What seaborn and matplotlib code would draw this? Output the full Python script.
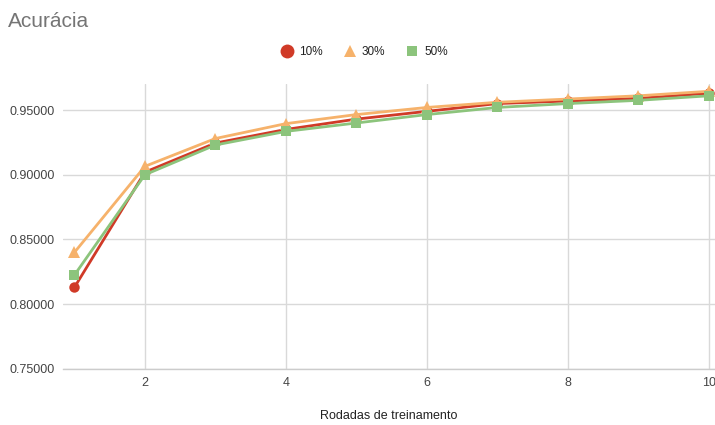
import matplotlib
matplotlib.use("Agg")
import matplotlib.pyplot as plt
from matplotlib.lines import Line2D
import pandas as pd
import seaborn as sns

# Accuracy per training round for each participation fraction
rounds = [1, 2, 3, 4, 5, 6, 7, 8, 9, 10]
acc_10 = [0.8130, 0.9020, 0.9245, 0.9350, 0.9430, 0.9490, 0.9550, 0.9570, 0.9590, 0.9630]
acc_30 = [0.8400, 0.9065, 0.9280, 0.9395, 0.9465, 0.9520, 0.9560, 0.9585, 0.9610, 0.9645]
acc_50 = [0.8225, 0.9000, 0.9230, 0.9335, 0.9400, 0.9465, 0.9520, 0.9550, 0.9575, 0.9610]
series_names = ["10%", "30%", "50%"]
y_ticks = [0.75, 0.80, 0.85, 0.90, 0.95]
x_ticks = [2, 4, 6, 8, 10]

colors = {"10%": "#d03a27", "30%": "#f6b26b", "50%": "#8cc47c"}
markers = {"10%": "o", "30%": "^", "50%": "s"}
sizes = {"10%": 7.5, "30%": 8, "50%": 6.8}
legend_sizes = {"10%": 10, "30%": 8, "50%": 7.5}

df = pd.DataFrame({
    "Rodada": rounds * 3,
    "Acurácia": acc_10 + acc_30 + acc_50,
    "Série": [s for s in series_names for _ in rounds],
})

sns.set_theme(style="white")
plt.rcParams["font.family"] = ["Liberation Sans", "DejaVu Sans"]

fig = plt.figure(figsize=(7.15, 4.25), dpi=100)
ax = fig.add_axes([0.088, 0.132, 0.912, 0.670])

for name in series_names:
    sub = df[df["Série"] == name]
    sns.lineplot(data=sub, x="Rodada", y="Acurácia", ax=ax, color=colors[name],
                 marker=markers[name], markersize=sizes[name], markeredgewidth=0,
                 linewidth=2, legend=False, zorder=3)

ax.set_xlim(0.837, 10.085)
ax.set_ylim(0.75, 0.970)
ax.set_xticks(x_ticks)
ax.set_yticks(y_ticks)
ax.set_yticklabels([f"{v:.5f}" for v in y_ticks])
ax.grid(True, color="#d9d9d9", linewidth=1, zorder=0)
for side in ["top", "right", "left"]:
    ax.spines[side].set_visible(False)
ax.spines["bottom"].set_color("#cccccc")
ax.spines["bottom"].set_linewidth(1)
ax.tick_params(axis="both", length=0, labelsize=9, colors="#444444", pad=6)
ax.set_xlabel("Rodadas de treinamento", fontsize=9, color="#222222", labelpad=15)
ax.set_ylabel("")

fig.text(0.011, 0.950, "Acurácia", fontsize=15, color="#757575", ha="left", va="center")

handles = [Line2D([], [], linestyle="none", marker=markers[n], color=colors[n],
                  markersize=legend_sizes[n], markeredgewidth=0) for n in series_names]
fig.legend(handles, series_names, loc="center", bbox_to_anchor=(0.51, 0.878),
           ncol=3, frameon=False, fontsize=8.5, handletextpad=0.5,
           columnspacing=1.8, handlelength=1.0, labelcolor="#222222")

fig.savefig("out.png", dpi=100)
